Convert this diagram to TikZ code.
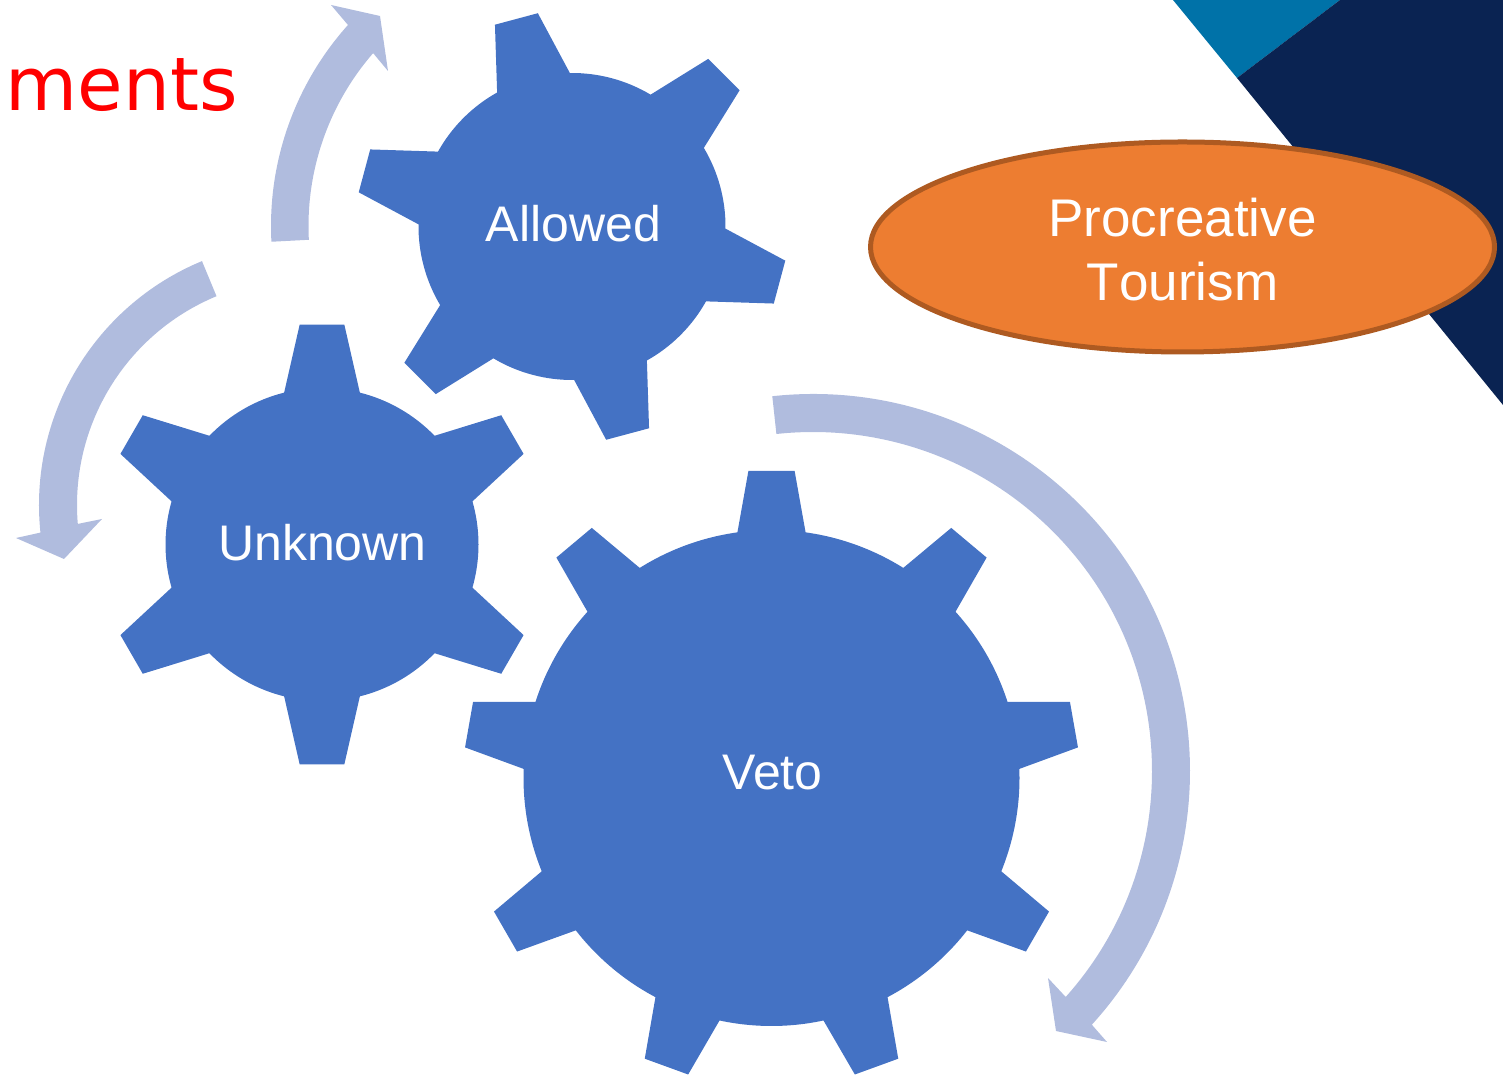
\documentclass[tikz,border=0pt]{standalone}
\usepackage{fontspec}
\setmainfont{Liberation Sans}
\newfontfamily\titlefont{DejaVu Sans}
\usetikzlibrary{shapes,calc,positioning}
\definecolor{gearblue}{HTML}{4472C4}
\definecolor{ringblue}{HTML}{B0BCDE}
\definecolor{ovalorange}{HTML}{ED7D31}
\definecolor{ovalrim}{HTML}{AE5A21}
\definecolor{navy}{HTML}{0A2352}
\definecolor{teal}{HTML}{0072A8}
\tikzstyle{gearlabel} = [text=white, font=\fontsize{50}{60}\selectfont, anchor=base]
\tikzstyle{geartooth} = [fill=gearblue]
\tikzstyle{ring} = [fill=ringblue]
\newcommand{\gearwheel}[7]{% centre, teeth, first angle, body radius, body half angle, tip radius, tip half angle
  \fill[geartooth, shift={(#1)}] (#3-#5:#4)
    \foreach \k in {1,...,#2} {
      -- ({#3+(\k-1)*360/#2-#5}:#4) -- ({#3+(\k-1)*360/#2-#7}:#6) -- ({#3+(\k-1)*360/#2+#7}:#6) -- ({#3+(\k-1)*360/#2+#5}:#4)
      arc[start angle={#3+(\k-1)*360/#2+#5}, end angle={#3+\k*360/#2-#5}, radius=#4]
    } -- cycle;
}
\newcommand{\ringarrow}[9]{% centre, outer radius, inner radius, start, outer end, inner end, tip, outer barb, inner barb
  \fill[ring] ($(#1)+(#4:#2)$) arc[start angle=#4, end angle=#5, radius=#2] -- (#8) -- (#7) -- (#9)
    -- ($(#1)+(#6:#3)$) arc[start angle=#6, end angle=#4, radius=#3] -- cycle;
}
\begin{document}
\begin{tikzpicture}[x=1pt,y=1pt]
      \useasboundingbox (0,0) rectangle (1503,1076);
      \fill[teal] (1173,1076) -- (1340,1076) -- (1237,998) -- cycle;
      \fill[navy] (1340,1076) -- (1503,1076) -- (1503,671) -- (1237,998) -- cycle;
      \node[text=red, anchor=base west, inner sep=0pt, font=\titlefont\fontsize{74}{80}\selectfont] (title) at (5.5,965.5) {ments};
      \gearwheel{572,849.5}{6}{105}{153.5}{14.2}{216}{5.9}
      \gearwheel{322,531.5}{6}{90}{156.5}{14}{221}{5.8}
      \gearwheel{771.5,298}{9}{90}{248}{7.9}{308}{4.3}
      \ringarrow{813,305}{377}{339}{96.2}{-42.3}{-41.8}{1056,45}{1107,34}{1048,98}
      \ringarrow{572,850}{301}{263.5}{183}{138.1}{139}{380,1060}{331,1071}{388,1005}
      \ringarrow{303,571}{264}{226}{112.5}{186}{184.8}{64,517}{16,538}{102,557}
      \node[gearlabel] (allowed) at (573.5,834) {Allowed};
      \node[gearlabel] (unknown) at (322.5,515) {Unknown};
      \node[gearlabel] (veto) at (772.5,286) {Veto};
      \node[ellipse, draw=ovalrim, line width=5pt, fill=ovalorange, minimum width=624pt, minimum height=210pt, inner sep=0pt] (tourism) at (1182.5,829) {};
      \node[text=white, align=center, inner sep=0pt, font=\fontsize{53}{64}\selectfont, yshift=-3pt] (tourismlabel) at (tourism.center) {Procreative\\\addfontfeature{Kerning=Off}Tourism};
    \end{tikzpicture}
\end{document}
